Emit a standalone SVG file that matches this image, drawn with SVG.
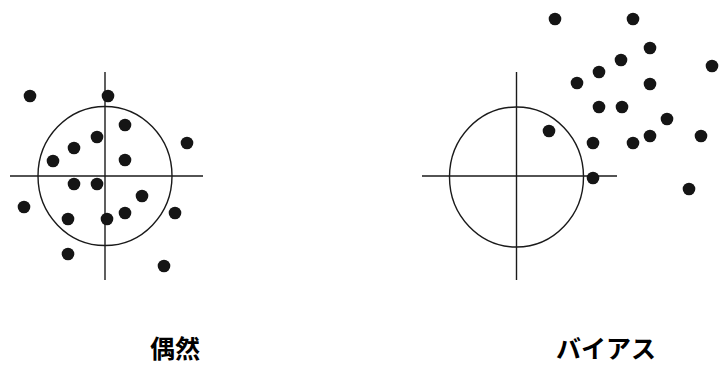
<svg xmlns="http://www.w3.org/2000/svg" width="725" height="378" viewBox="0 0 725 378">
<style>
.ax{stroke:#1a1a1a;stroke-width:1.4;fill:none}
.c{stroke:#1a1a1a;stroke-width:1.4;fill:none}
.d{fill:#151515}
.t{font-family:"Liberation Sans","Noto Sans CJK JP",sans-serif;font-size:25px;font-weight:bold;fill:#000;text-anchor:middle}
</style>
<rect width="725" height="378" fill="#fff"/>
<g id="chance">
<line class="ax" x1="105" y1="72" x2="105" y2="280"/>
<line class="ax" x1="10" y1="176" x2="203" y2="176"/>
<ellipse class="c" cx="105" cy="176" rx="67" ry="69.5"/>
<g class="dots">
<circle class="d" cx="30" cy="96" r="6.3"/>
<circle class="d" cx="108" cy="96" r="6.3"/>
<circle class="d" cx="125" cy="125" r="6.3"/>
<circle class="d" cx="97" cy="137" r="6.3"/>
<circle class="d" cx="74" cy="148" r="6.3"/>
<circle class="d" cx="53" cy="161" r="6.3"/>
<circle class="d" cx="125" cy="160" r="6.3"/>
<circle class="d" cx="187" cy="143" r="6.3"/>
<circle class="d" cx="74" cy="184" r="6.3"/>
<circle class="d" cx="97" cy="184" r="6.3"/>
<circle class="d" cx="142" cy="196" r="6.3"/>
<circle class="d" cx="24" cy="207" r="6.3"/>
<circle class="d" cx="68" cy="219" r="6.3"/>
<circle class="d" cx="107" cy="219" r="6.3"/>
<circle class="d" cx="125" cy="213" r="6.3"/>
<circle class="d" cx="175" cy="213" r="6.3"/>
<circle class="d" cx="68" cy="254" r="6.3"/>
<circle class="d" cx="164" cy="266" r="6.3"/>
</g>
<text class="t" x="175" y="358">偶然</text>
</g>
<g id="bias">
<line class="ax" x1="516.5" y1="72" x2="516.5" y2="280"/>
<line class="ax" x1="422" y1="176" x2="617" y2="176"/>
<ellipse class="c" cx="516.5" cy="177" rx="67" ry="70"/>
<g class="dots">
<circle class="d" cx="555" cy="19" r="6.3"/>
<circle class="d" cx="633" cy="19" r="6.3"/>
<circle class="d" cx="650" cy="48" r="6.3"/>
<circle class="d" cx="712" cy="66" r="6.3"/>
<circle class="d" cx="621" cy="60" r="6.3"/>
<circle class="d" cx="599" cy="72" r="6.3"/>
<circle class="d" cx="577" cy="83" r="6.3"/>
<circle class="d" cx="650" cy="84" r="6.3"/>
<circle class="d" cx="599" cy="107" r="6.3"/>
<circle class="d" cx="622" cy="107" r="6.3"/>
<circle class="d" cx="667" cy="119" r="6.3"/>
<circle class="d" cx="549" cy="131" r="6.3"/>
<circle class="d" cx="593" cy="143" r="6.3"/>
<circle class="d" cx="633" cy="143" r="6.3"/>
<circle class="d" cx="650" cy="136" r="6.3"/>
<circle class="d" cx="701" cy="136" r="6.3"/>
<circle class="d" cx="593" cy="178" r="6.3"/>
<circle class="d" cx="689" cy="189" r="6.3"/>
</g>
<text class="t" x="606" y="358">バイアス</text>
</g>
</svg>
